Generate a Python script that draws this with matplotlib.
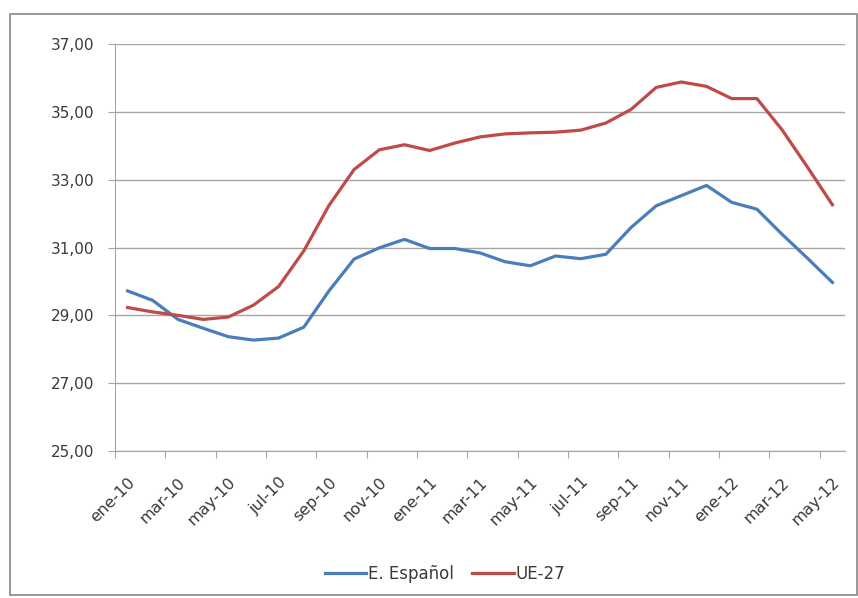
import matplotlib
matplotlib.use("Agg")
import matplotlib.pyplot as plt
from matplotlib.patches import Rectangle

# meses ene-10 .. may-12
meses = ["ene", "feb", "mar", "abr", "may", "jun", "jul", "ago", "sep", "oct", "nov", "dic"]
categorias = [f"{meses[i % 12]}-{10 + i // 12}" for i in range(29)]

espanol = [29.72, 29.44, 28.88, 28.62, 28.37, 28.27, 28.33, 28.65, 29.72, 30.66,
           30.99, 31.24, 30.97, 30.97, 30.84, 30.58, 30.46, 30.75, 30.67, 30.80,
           31.59, 32.23, 32.53, 32.83, 32.33, 32.13, 31.39, 30.69, 29.97]
ue27 = [29.23, 29.10, 29.00, 28.88, 28.95, 29.30, 29.85, 30.90, 32.24, 33.30,
        33.88, 34.03, 33.86, 34.08, 34.26, 34.35, 34.38, 34.40, 34.46, 34.67,
        35.07, 35.72, 35.88, 35.75, 35.39, 35.39, 34.47, 33.38, 32.26]
y_ticks = [25, 27, 29, 31, 33, 35, 37]

plt.rcParams['font.family'] = ['DejaVu Sans']

fig = plt.figure(figsize=(8.58, 5.98), dpi=100)
ax = fig.add_axes([115 / 858, 1 - 451 / 598, 730 / 858, 407 / 598])

x = list(range(len(categorias)))
ax.plot(x, espanol, color="#4A7EBB", lw=2.3, label="E. Español")
ax.plot(x, ue27, color="#BE4B48", lw=2.3, label="UE-27")

ax.set_xlim(-0.5, len(categorias) - 0.5)
ax.set_ylim(25, 37)
ax.set_yticks(y_ticks)
ax.set_yticklabels([f"{v:.2f}".replace(".", ",") for v in y_ticks])
ax.yaxis.grid(True, color="#A6A6A6", lw=1)
ax.set_axisbelow(True)

# ticks entre categorías, etiquetas cada dos meses
ax.set_xticks([i - 0.5 for i in range(0, len(categorias), 2)])
ax.set_xticklabels([])
ax.set_xticks(x[::2], minor=True)
ax.set_xticklabels(categorias[::2], minor=True, rotation=45, ha="right",
                   rotation_mode="anchor", fontsize=11.5, color="#3A3A3A")
ax.tick_params(axis="x", which="minor", length=0, pad=17)
ax.tick_params(axis="x", which="major", length=5, color="#A6A6A6", direction="out")
ax.tick_params(axis="y", length=5, color="#A6A6A6", labelsize=11, labelcolor="#3A3A3A", pad=10)

for s in ["top", "right"]:
    ax.spines[s].set_visible(False)
for s in ["left", "bottom"]:
    ax.spines[s].set_color("#A6A6A6")

fig.legend(loc="center", bbox_to_anchor=(445 / 858, 1 - 574 / 598), ncol=2, frameon=False,
           fontsize=12, handlelength=2.5, columnspacing=1.1, handletextpad=0.1,
           labelcolor="#3A3A3A")

# borde del área del gráfico
fig.add_artist(Rectangle((10 / 858, 1 - 595 / 598), 847 / 858, 581 / 598,
                         transform=fig.transFigure, fill=False, edgecolor="#868686", lw=1.2))

plt.savefig("out.png", dpi=100)
plt.close()
